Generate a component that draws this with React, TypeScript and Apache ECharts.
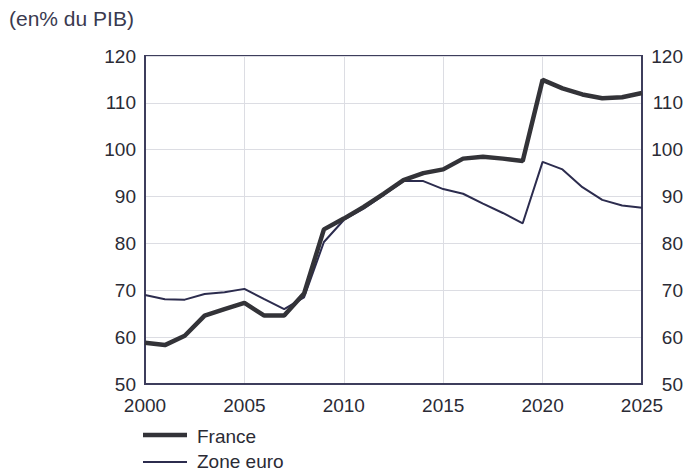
import React, { useEffect, useRef } from "react";
import * as echarts from "echarts";

const years = [2000, 2001, 2002, 2003, 2004, 2005, 2006, 2007, 2008, 2009, 2010, 2011, 2012, 2013, 2014, 2015, 2016, 2017, 2018, 2019, 2020, 2021, 2022, 2023, 2024, 2025];
const france = [58.8, 58.3, 60.3, 64.6, 66.0, 67.3, 64.6, 64.6, 69.3, 83.0, 85.3, 87.8, 90.6, 93.5, 95.0, 95.8, 98.1, 98.5, 98.1, 97.6, 114.9, 113.1, 111.8, 111.0, 111.2, 112.1];
const zoneEuro = [69.0, 68.1, 68.0, 69.2, 69.6, 70.3, 68.1, 66.0, 68.5, 80.3, 85.0, 87.4, 90.3, 93.3, 93.3, 91.6, 90.6, 88.5, 86.5, 84.3, 97.4, 95.8, 92.0, 89.3, 88.1, 87.6];
const seriesNames = ["France", "Zone euro"];
const yTicks = { min: 50, max: 120, interval: 10 };
const xTicks = { min: 2000, max: 2025, interval: 5 };
const unitLabel = "(en% du PIB)";

const FONT = "'Liberation Sans', Arial, sans-serif";
const TEXT = "#2b2b35";
const AXIS = "#3d3d5c";
const C_FR = "#333338";
const C_EU = "#2c2c4e";

export default function App() {
  const ref = useRef<HTMLDivElement>(null);
  useEffect(() => {
    document.body.style.margin = "0";
    const chart = echarts.init(ref.current!, null, { renderer: "svg" });
    const toPairs = (vals: number[]) => years.map((y, i) => [y, vals[i]]);
    const yAxisCommon = {
      type: "value" as const,
      min: yTicks.min,
      max: yTicks.max,
      interval: yTicks.interval,
      axisLine: { show: true, lineStyle: { color: AXIS, width: 2 } },
      axisTick: { show: false },
    };
    const labelStyle = { color: TEXT, fontSize: 19, fontFamily: FONT };
    chart.setOption({
      animation: false,
      backgroundColor: "#ffffff",
      grid: { left: 145, right: 45, top: 56, bottom: 86, show: true, borderColor: AXIS, borderWidth: 2 },
      graphic: [
        { type: "text", left: 9, top: 8, style: { text: unitLabel, fill: "#3a3a4f", font: `21px ${FONT}` } },
        { type: "line", shape: { x1: 143, y1: 435, x2: 187, y2: 435 }, style: { stroke: C_FR, lineWidth: 4.5 } },
        { type: "text", x: 197, y: 436, style: { text: seriesNames[0], fill: TEXT, font: `19px ${FONT}`, verticalAlign: "middle" } },
        { type: "line", shape: { x1: 143, y1: 462, x2: 187, y2: 462 }, style: { stroke: C_EU, lineWidth: 2 } },
        { type: "text", x: 197, y: 461, style: { text: seriesNames[1], fill: TEXT, font: `19px ${FONT}`, verticalAlign: "middle" } },
      ],
      xAxis: {
        type: "value",
        min: xTicks.min,
        max: xTicks.max,
        interval: xTicks.interval,
        axisLine: { show: true, lineStyle: { color: AXIS, width: 2 } },
        axisTick: { show: false },
        axisLabel: { ...labelStyle, margin: 12, formatter: (v: number) => String(v) },
        splitLine: { show: true, lineStyle: { color: "#dcdde3", width: 1 } },
      },
      yAxis: [
        {
          ...yAxisCommon, position: "left",
          axisLabel: { ...labelStyle, margin: 9 },
          splitLine: { show: true, lineStyle: { color: "#dcdde3", width: 1 } },
        },
        {
          ...yAxisCommon, position: "right",
          axisLabel: { ...labelStyle, margin: 41, align: "right" },
          splitLine: { show: false },
        },
      ],
      series: [
        {
          name: seriesNames[0], type: "line", data: toPairs(france), showSymbol: false, symbol: "none",
          lineStyle: { color: C_FR, width: 4.5 }, itemStyle: { color: C_FR }, z: 3,
        },
        {
          name: seriesNames[1], type: "line", data: toPairs(zoneEuro), showSymbol: false, symbol: "none",
          lineStyle: { color: C_EU, width: 2 }, itemStyle: { color: C_EU }, z: 2,
        },
      ],
    });
    return () => chart.dispose();
  }, []);
  return <div ref={ref} style={{ width: 687, height: 470 }} />;
}
